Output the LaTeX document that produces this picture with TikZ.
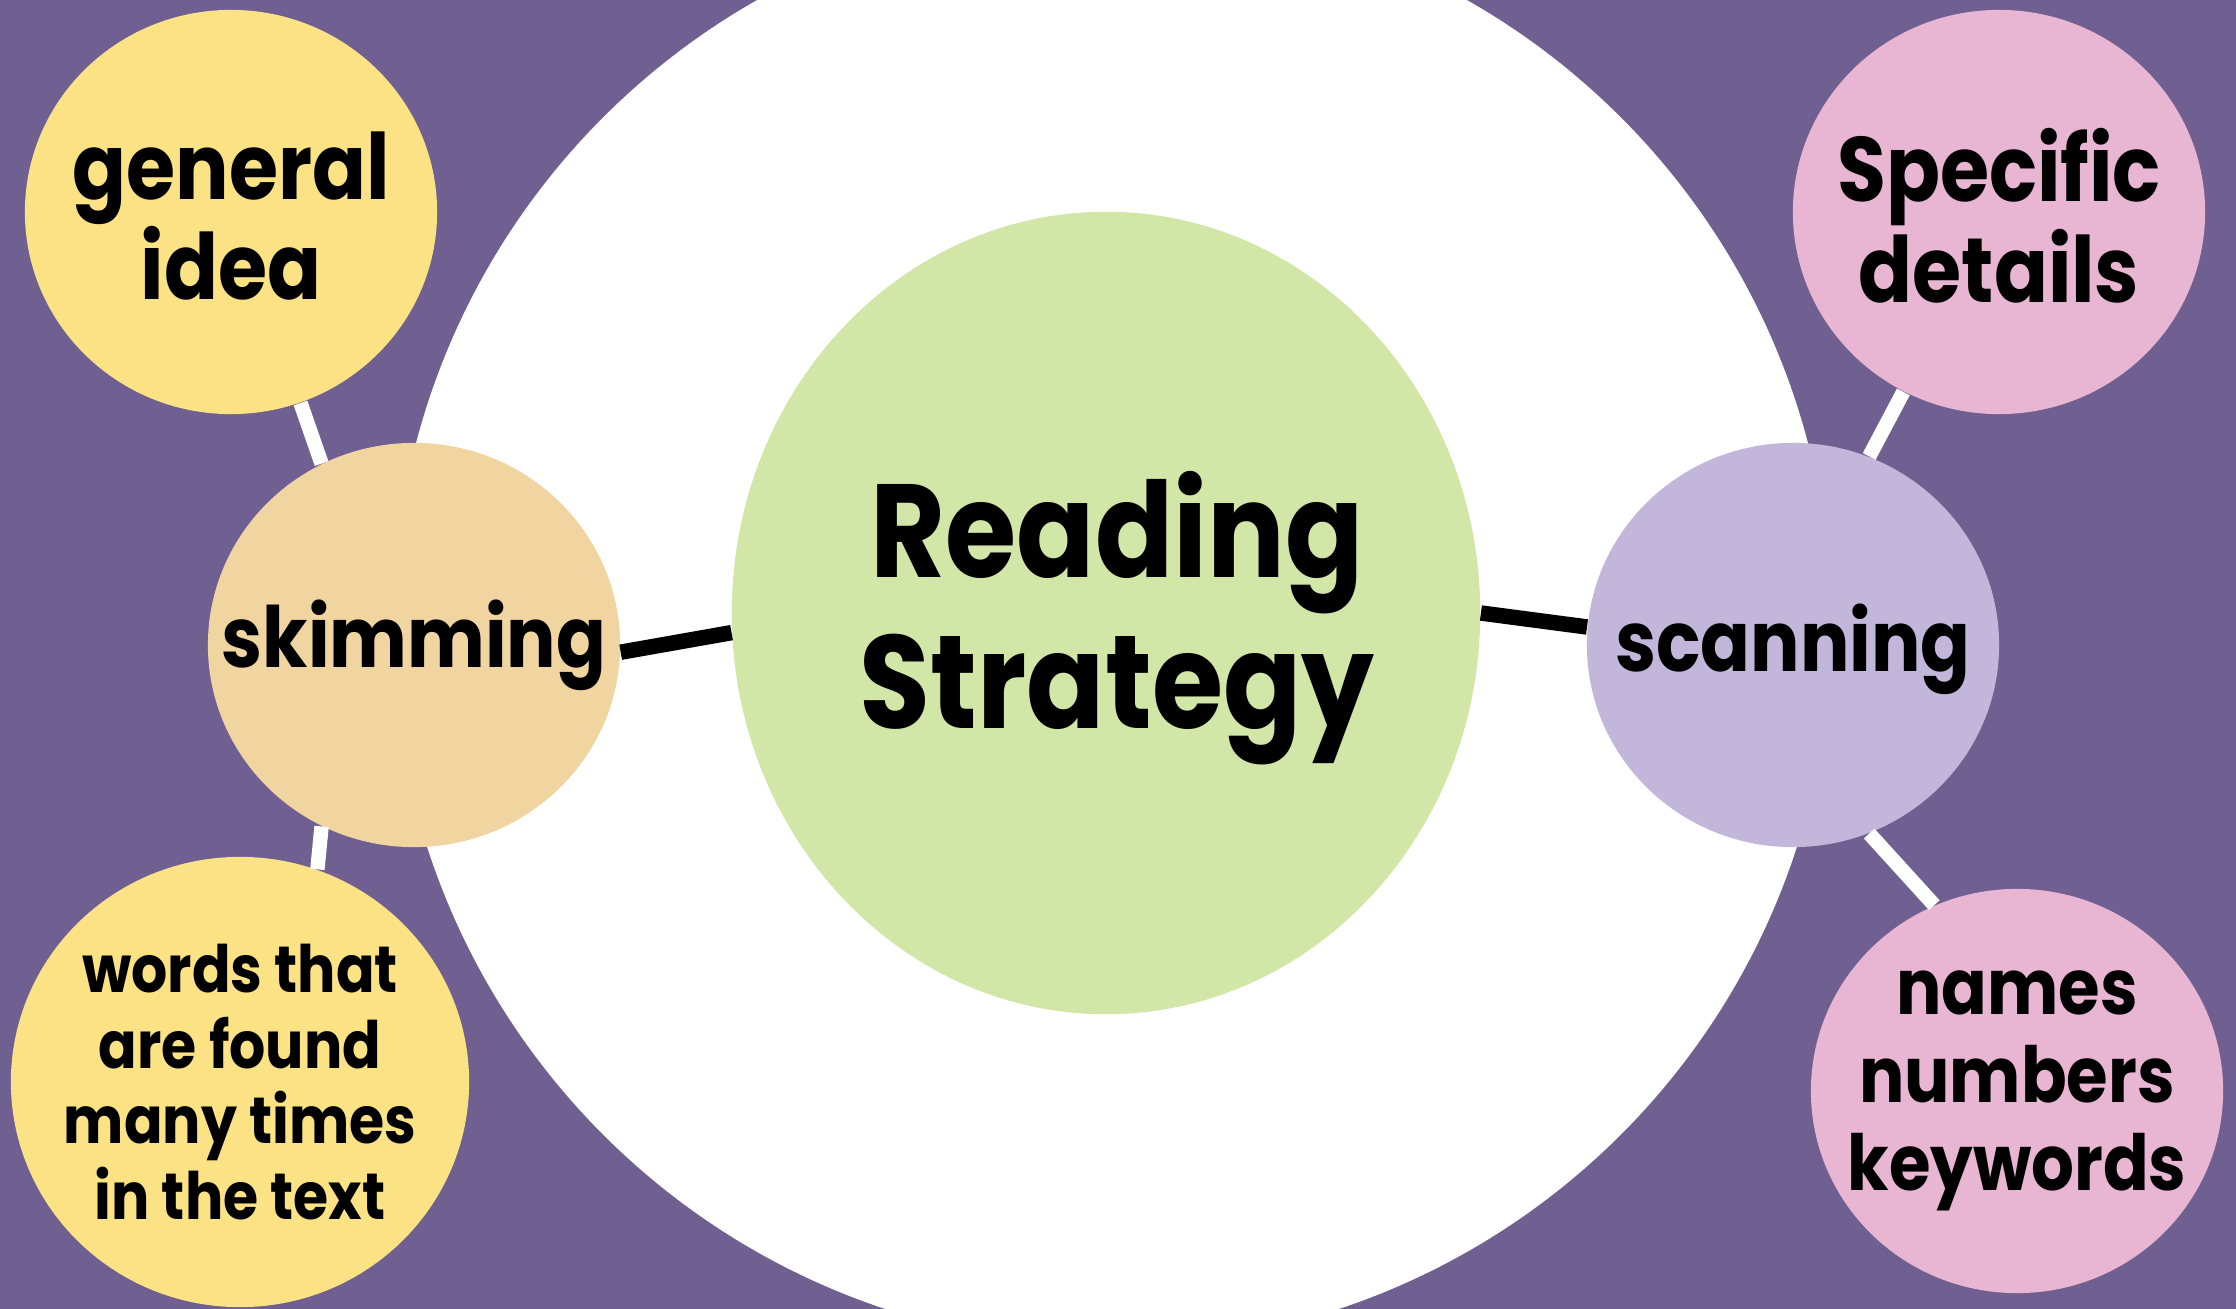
\documentclass[tikz,border=0pt]{standalone}
\usepackage{fontspec}
\setmainfont{Poppins}[FakeStretch=0.87]
\usetikzlibrary{shapes.geometric}
\definecolor{bgpurple}{HTML}{705F91}
\definecolor{ideayellow}{HTML}{FBE385}
\definecolor{skimtan}{HTML}{F0D5A1}
\definecolor{centregreen}{HTML}{D1E6A7}
\definecolor{scanlilac}{HTML}{C3B6DB}
\definecolor{detailpink}{HTML}{E8B6D3}
\begin{document}
\begin{tikzpicture}[x=0.01cm,y=-0.01cm,
    blob/.style={ellipse,inner sep=0pt,minimum width=4.12cm,minimum height=4.04cm},
    tag/.style={align=center,font=\bfseries\fontsize{#1}{28.4}\selectfont},
    link/.style={line width=4.4pt},
    ]
    \clip (0,0) rectangle (2236,1309);
    \fill[bgpurple] (0,0) rectangle (2236,1309);
    \node[circle,fill=white,minimum size=14.38cm] (ring) at (1112,626) {};
    % centre
    \node[ellipse,fill=centregreen,minimum width=7.48cm,minimum height=8.02cm] (strategy) at (1106,613) {};
    \node[align=center,font=\bfseries\fontsize{37.7}{43}\selectfont] at ([xshift=0.11cm,yshift=-0.05cm]strategy) {Reading\\Strategy};
    % left branch
    \node[blob,fill=skimtan] (skim) at (414,645) {};
    \node[tag=24] at (skim) {skimming};
    \node[blob,fill=ideayellow] (idea) at (231,212) {};
    \node[tag=26] at ([yshift=-0.04cm]idea) {general\\idea};
    \node[blob,fill=ideayellow,minimum width=4.58cm,minimum height=4.5cm] (words) at (240,1082) {};
    \node[align=center,font=\bfseries\fontsize{18.6}{21.5}\selectfont] at (words) {words that\\are found\\many times\\in the text};
    % right branch
    \node[blob,fill=scanlilac] (scan) at (1793,645) {};
    \node[tag=24] at ([yshift=-0.04cm]scan) {scanning};
    \node[blob,fill=detailpink] (detail) at (1999,212) {};
    \node[align=center,font=\bfseries\fontsize{26}{27.5}\selectfont] at ([yshift=-0.04cm]detail) {Specific\\details};
    \node[blob,fill=detailpink] (names) at (2017,1091) {};
    \node[align=center,font=\bfseries\fontsize{22}{25}\selectfont] at (names) {names\\numbers\\keywords};
    \draw[link] (skim.-2.8) -- (strategy.183.2);
    \draw[link] (strategy.-0.5) -- (scan.175.8);
    \draw[link,line width=4.1pt,white] (idea.-70.5) -- (skim.117.5);
    \draw[link,line width=4.1pt,white] (skim.243.8) -- (words.70.9);
    \draw[link,line width=4.1pt,white] (detail.242.7) -- (scan.68.5);
    \draw[link,line width=4.1pt,white] (scan.-68.3) -- (names.114.9);
\end{tikzpicture}
\end{document}
